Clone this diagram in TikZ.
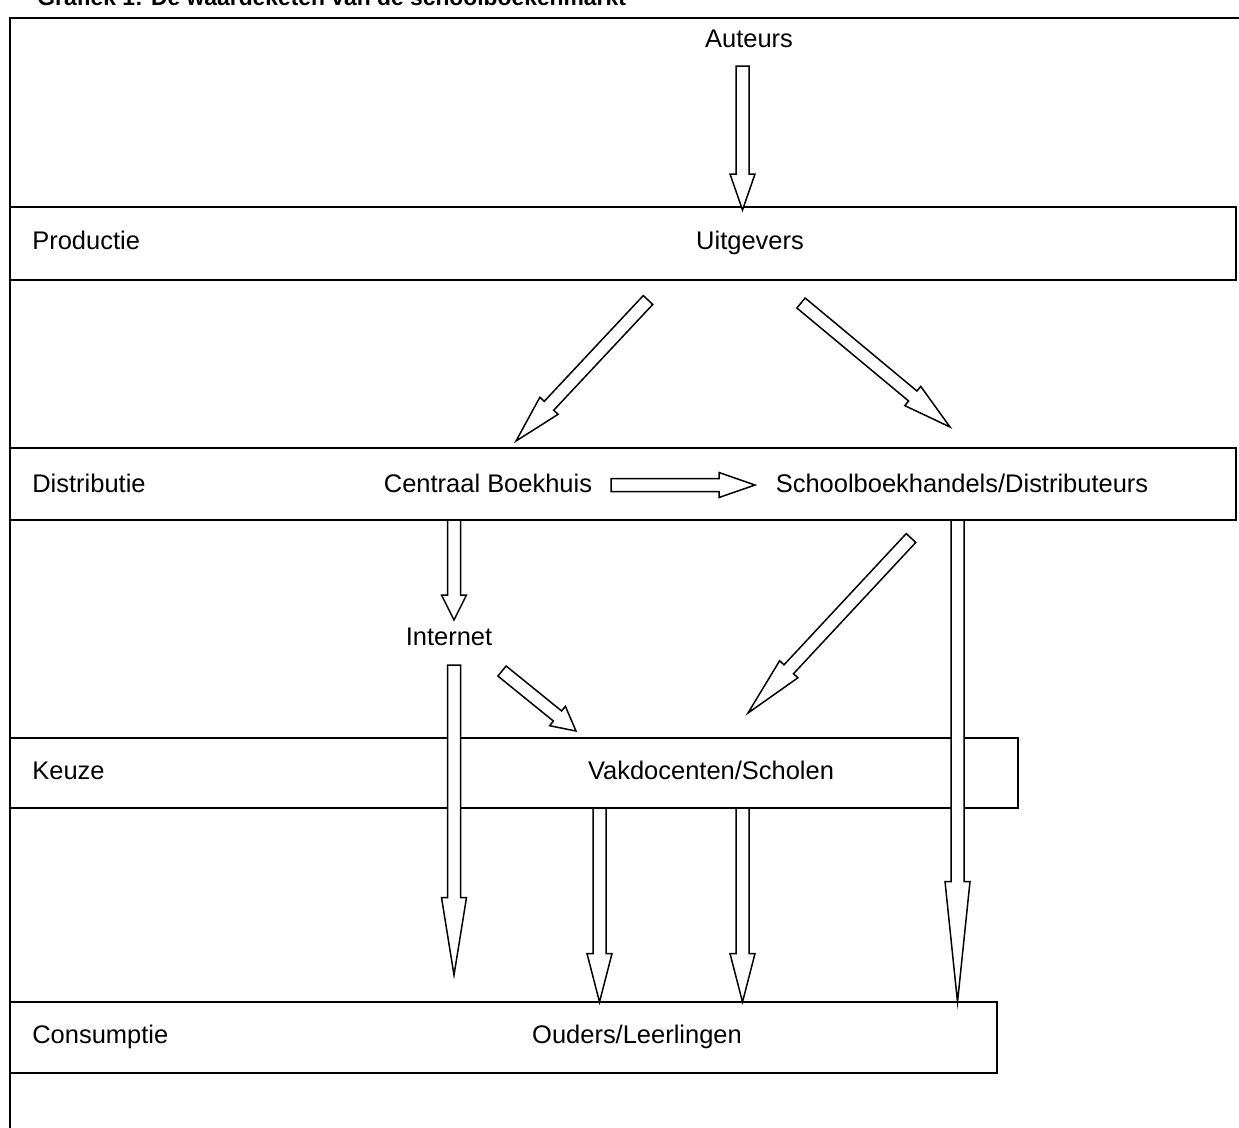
\documentclass[tikz,border=0pt]{standalone}
\usepackage{fontspec}
\setmainfont{Liberation Sans}
\usetikzlibrary{calc}

% hollow block arrow from #1 to #2, head is a quarter of the length
\newcommand{\shaftw}{0.13cm}
\newcommand{\headw}{0.25cm}
\newcommand{\blockarrow}[2]{%
  \coordinate (bh) at ($(#2)!0.25!(#1)$);
  \draw[blockarr] ($(#1)!\shaftw!90:(#2)$) -- ($(bh)!\shaftw!90:(#2)$)
    -- ($(bh)!\headw!90:(#2)$) -- (#2) -- ($(bh)!\headw!-90:(#2)$)
    -- ($(bh)!\shaftw!-90:(#2)$) -- ($(#1)!\shaftw!-90:(#2)$) -- cycle;}

\begin{document}
\begin{tikzpicture}[x=0.02cm,y=-0.02cm,
    font=\fontsize{14.5}{17}\selectfont,
    frame/.style={line width=1.4pt},
    stage/.style={line width=1.1pt},
    blockarr/.style={line width=0.85pt,fill=white,line join=miter},
    lbl/.style={anchor=base,inner sep=0pt}]
  \clip (0,0) rectangle (1239,1127);
  % caption, cut off by the page edge
  \node[lbl,anchor=base west,font=\bfseries\fontsize{13}{15}\selectfont] (caption) at (37,5)
    {Grafiek 1: De waardeketen van de schoolboekenmarkt};
  % outer frame
  \draw[frame] (10,1140) -- (10,18) -- (1250,18);
  % stages
  \draw[stage] (10,207) rectangle (1236,280);
  \draw[stage] (10,448) rectangle (1236,520);
  \draw[stage] (10,738) rectangle (1018,808);
  \draw[stage] (10,1002) rectangle (997,1073);
  \node[lbl,anchor=base west] (productie) at (32,249) {Productie};
  \node[lbl,anchor=base west] (distributie) at (32,492) {Distributie};
  \node[lbl,anchor=base west] (keuze) at (32,779) {Keuze};
  \node[lbl,anchor=base west] (consumptie) at (32,1043) {Consumptie};
  % actors
  \node[lbl] (auteurs) at (749,47) {Auteurs};
  \node[lbl] (uitgevers) at (750,249) {Uitgevers};
  \node[lbl] (cb) at (488,492) {Centraal Boekhuis};
  \node[lbl] (sbh) at (962,492) {Schoolboekhandels/Distributeurs};
  \node[lbl] (internet) at (449,645) {Internet};
  \node[lbl] (vak) at (711,779) {Vakdocenten/Scholen};
  \node[lbl] (ouders) at (637,1043) {Ouders/Leerlingen};
  % arrow ends
  \coordinate (a1) at (742.5,66);  \coordinate (b1) at (742.5,210);
  \coordinate (a2) at (648,300);   \coordinate (b2) at (516,441);
  \coordinate (a3) at (801,303);   \coordinate (b3) at (950,427);
  \coordinate (a4) at (611,485);   \coordinate (b4) at (755,485);
  \coordinate (a5) at (454,520);   \coordinate (b5) at (454,620);
  \coordinate (a6) at (454,665);   \coordinate (b6) at (454,975);
  \coordinate (a7) at (502,671);   \coordinate (b7) at (576,731);
  \coordinate (a8) at (911,538);   \coordinate (b8) at (748,713);
  \coordinate (a9) at (957.5,520); \coordinate (b9) at (957.5,1002);
  \coordinate (a10) at (599.5,808); \coordinate (b10) at (599.5,1002);
  \coordinate (a11) at (742.5,808); \coordinate (b11) at (742.5,1002);
  \foreach \i in {1,...,11}{\blockarrow{a\i}{b\i}}
\end{tikzpicture}
\end{document}
